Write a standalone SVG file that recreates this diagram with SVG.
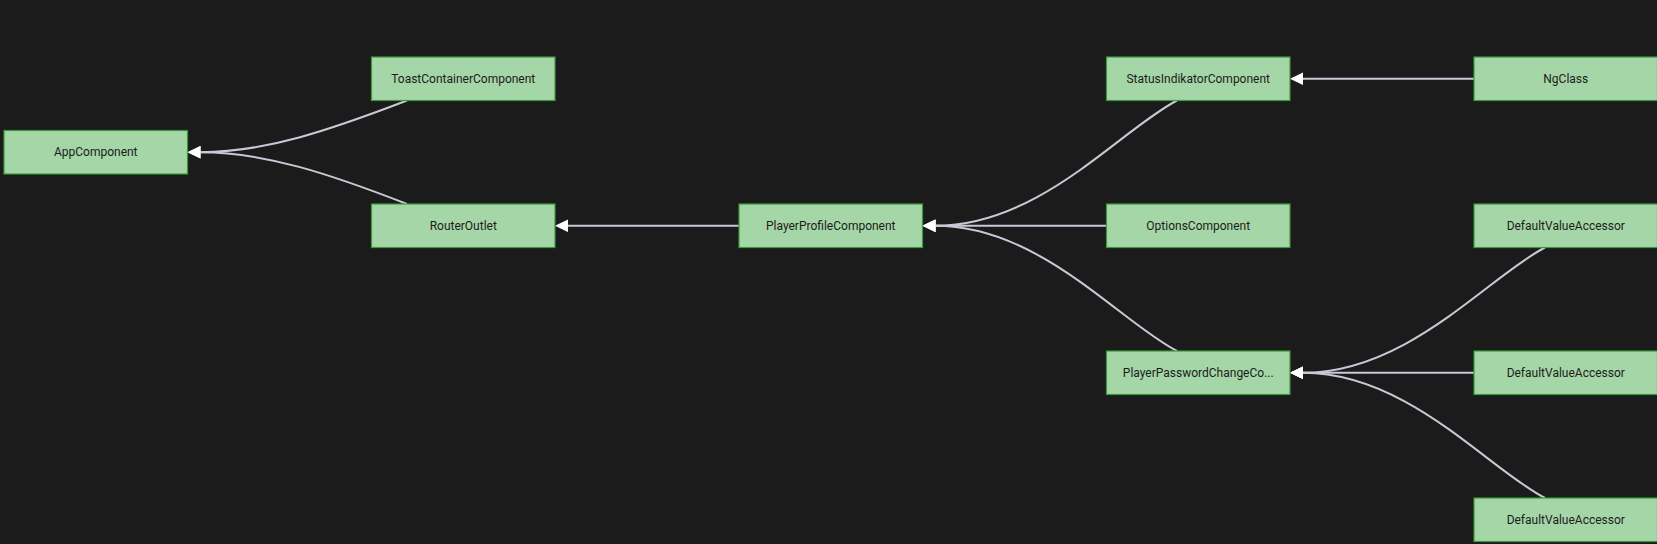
<svg xmlns="http://www.w3.org/2000/svg" width="1657" height="544" viewBox="0 0 1657 544">
<style>
.node rect{fill:#a5d6a7;stroke:#3a9a3a;stroke-width:1.2}
.node text{font-family:Roboto,"Liberation Sans",sans-serif;font-size:12px;fill:#1c1c1c;text-anchor:middle;dominant-baseline:central}
.edges path{fill:none;stroke:#c8c9d6;stroke-width:2}
</style>
<defs>
<marker id="arr" markerUnits="userSpaceOnUse" markerWidth="13" markerHeight="13" viewBox="0 -6.5 13 13" refX="0" refY="0" orient="auto">
<path d="M0,-6.3 L13,0 L0,6.3 z" fill="#ffffff"/>
</marker>
</defs>
<rect width="1657" height="544" fill="#1b1b1b"/>
<g class="edges">
<path marker-end="url(#arr)" d="M407,100.5 C330,130 265,152.25 200.5,152.25"/>
<path marker-end="url(#arr)" d="M407,204 C330,174 265,152.25 200.5,152.25"/>
<path marker-end="url(#arr)" d="M739,225.75 L568,225.75"/>
<path marker-end="url(#arr)" d="M1177,100.5 C1120,130 1040,225.75 935.5,225.75"/>
<path marker-end="url(#arr)" d="M1106.5,225.75 L935.5,225.75"/>
<path marker-end="url(#arr)" d="M1177,351 C1120,322 1040,225.75 935.5,225.75"/>
<path marker-end="url(#arr)" d="M1474,78.75 L1303,78.75"/>
<path marker-end="url(#arr)" d="M1545,247.5 C1488,277 1408,372.75 1303,372.75"/>
<path marker-end="url(#arr)" d="M1474,372.75 L1303,372.75"/>
<path marker-end="url(#arr)" d="M1545,498 C1488,469 1408,372.75 1303,372.75"/>
</g>
<g id="n-app" class="node"><rect x="4" y="130.5" width="183.5" height="43.5"/><text x="95.75" y="152.25">AppComponent</text></g>
<g id="n-toast" class="node"><rect x="371.5" y="57" width="183.5" height="43.5"/><text x="463.25" y="78.75">ToastContainerComponent</text></g>
<g id="n-router" class="node"><rect x="371.5" y="204" width="183.5" height="43.5"/><text x="463.25" y="225.75">RouterOutlet</text></g>
<g id="n-profile" class="node"><rect x="739" y="204" width="183.5" height="43.5"/><text x="830.75" y="225.75">PlayerProfileComponent</text></g>
<g id="n-status" class="node"><rect x="1106.5" y="57" width="183.5" height="43.5"/><text x="1198.25" y="78.75">StatusIndikatorComponent</text></g>
<g id="n-options" class="node"><rect x="1106.5" y="204" width="183.5" height="43.5"/><text x="1198.25" y="225.75">OptionsComponent</text></g>
<g id="n-pwchange" class="node"><rect x="1106.5" y="351" width="183.5" height="43.5"/><text x="1198.25" y="372.75">PlayerPasswordChangeCo...</text></g>
<g id="n-ngclass" class="node"><rect x="1474" y="57" width="183.5" height="43.5"/><text x="1565.75" y="78.75">NgClass</text></g>
<g id="n-dva1" class="node"><rect x="1474" y="204" width="183.5" height="43.5"/><text x="1565.75" y="225.75">DefaultValueAccessor</text></g>
<g id="n-dva2" class="node"><rect x="1474" y="351" width="183.5" height="43.5"/><text x="1565.75" y="372.75">DefaultValueAccessor</text></g>
<g id="n-dva3" class="node"><rect x="1474" y="498" width="183.5" height="43.5"/><text x="1565.75" y="519.75">DefaultValueAccessor</text></g>
</svg>
